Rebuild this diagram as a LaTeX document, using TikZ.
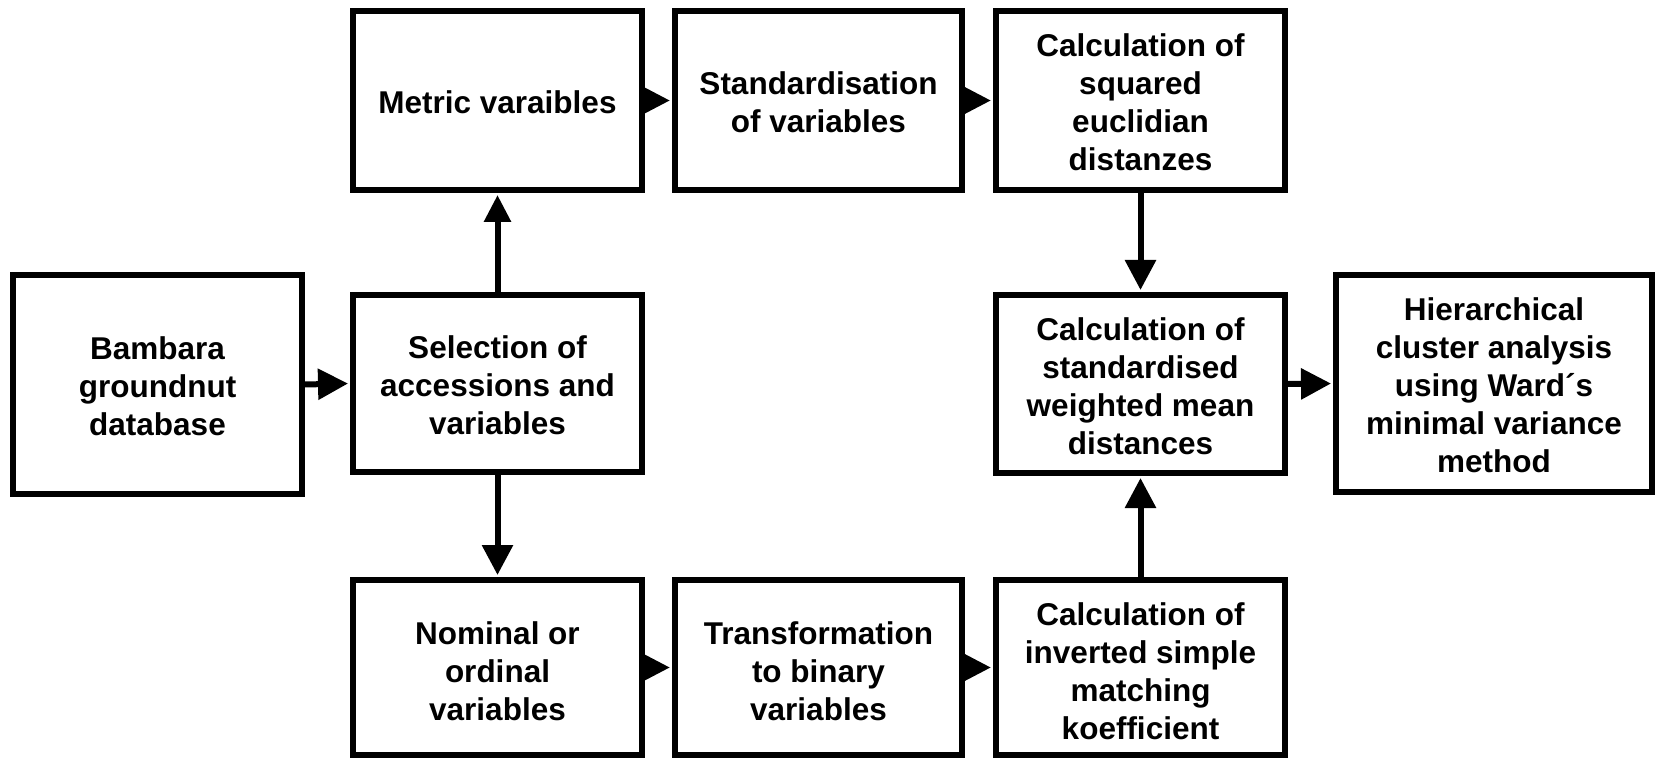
\documentclass[tikz,border=0pt]{standalone}
\usepackage{fontspec}
\setmainfont{Liberation Sans}
\usetikzlibrary{arrows.meta}
\newcommand{\dropA}{\rule{0pt}{27pt}}
\newcommand{\dropB}{\rule{0pt}{31pt}}
\begin{document}
\begin{tikzpicture}[x=1pt,y=-1pt,
  box/.style={draw, line width=6pt, minimum width=289pt, minimum height=179pt, inner sep=0pt, align=center,
    font=\fontsize{31.5}{38}\selectfont\bfseries},
  arr/.style={line width=6pt, -{Triangle[length=30pt,width=30pt]}},
  sarr/.style={line width=6pt, -{Triangle[length=27pt,width=26pt]}}]
\useasboundingbox (0,0) rectangle (1658,759);
\node[box, minimum height=219pt] (bam) at (157.5,384.5) {\dropA Bambara\\groundnut\\database};
\node[box, minimum height=177pt] (sel) at (497.5,383.5) {\dropA Selection of\\accessions and\\variables};
\node[box] (met) at (497.5,100.5) {\dropA Metric varaibles};
\node[box, minimum width=287pt] (std) at (818.5,100.5) {\dropA Standardisation\\of variables};
\node[box] (sq) at (1140.5,100.5) {\dropA Calculation of\\squared\\euclidian\\distanzes};
\node[box, minimum height=178pt] (wm) at (1140.5,384) {\dropA Calculation of\\standardised\\weighted mean\\distances};
\node[box, minimum width=316pt, minimum height=217pt] (hier) at (1494,383.5) {\dropA Hierarchical\\cluster analysis\\using Ward´s\\minimal variance\\method};
\node[box, minimum height=175pt] (nom) at (497.5,667.5) {\dropB Nominal or\\ordinal\\variables};
\node[box, minimum width=287pt, minimum height=175pt] (tra) at (818.5,667.5) {\dropB Transformation\\to binary\\variables};
\node[box, minimum height=175pt] (inv) at (1140.5,667.5) {\dropB Calculation of\\inverted simple\\matching\\koefficient};
\draw[arr, shorten >=2pt] (bam.east) -- (sel.west);
\draw[sarr, shorten >=2pt] (sel.north) -- (met.south);
\draw[arr, shorten >=2pt] (sel.south) -- (nom.north);
\draw[sarr, shorten >=2pt] (met.east) -- (std.west);
\draw[sarr, shorten >=2pt] (std.east) -- (sq.west);
\draw[arr, shorten >=2pt] (sq.south) -- (wm.north);
\draw[arr, shorten >=2pt] (inv.north) -- (wm.south);
\draw[arr, shorten >=2pt] (wm.east) -- (hier.west);
\draw[sarr, shorten >=2pt] (nom.east) -- (tra.west);
\draw[sarr, shorten >=2pt] (tra.east) -- (inv.west);
\end{tikzpicture}
\end{document}
